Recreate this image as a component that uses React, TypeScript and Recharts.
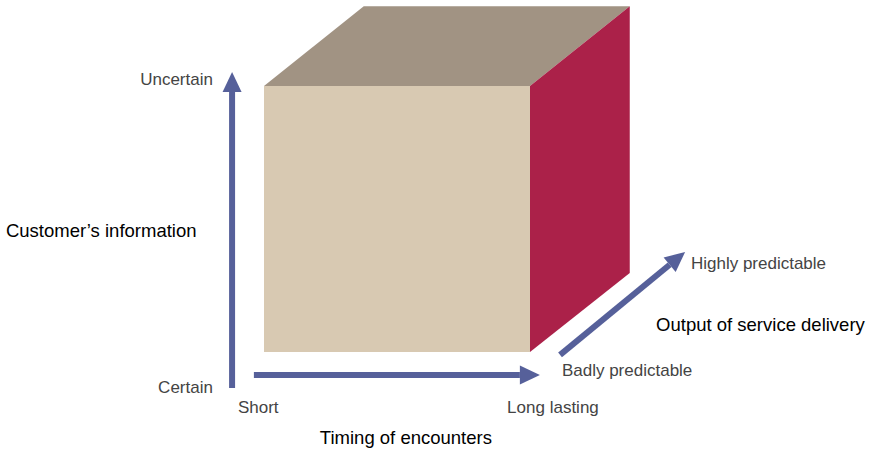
import React from "react";
import { ComposedChart, Area, Line, Scatter, XAxis, YAxis } from "recharts";

// Diagram units: the front face of the cube spans 0..10 on both axes.
// Cube depth is drawn as an oblique offset of (3.75, 3) units.
const frontFace = [
  { x: 0, range: [0, 10] },
  { x: 10, range: [0, 10] },
];
const topFace = [
  { x: 0, range: [10, 10] },
  { x: 3.75, range: [10, 13] },
  { x: 10, range: [10, 13] },
  { x: 13.75, range: [13, 13] },
];
const sideFace = [
  { x: 10, range: [0, 10] },
  { x: 13.75, range: [2.97, 13] },
];

// Arrow shafts (last point = base of the arrow head)
const arrowVertical = [
  { x: -1.2, y: -1.35 },
  { x: -1.2, y: 9.77 },
];
const arrowHorizontal = [
  { x: -0.38, y: -0.86 },
  { x: 9.62, y: -0.86 },
];
const arrowDepth = [
  { x: 11.13, y: -0.11 },
  { x: 15.25, y: 3.28 },
];

// Labels
const axisLabels = [
  { x: -1.92, y: 10.23, text: "Uncertain", anchor: "end" },
  { x: -1.92, y: -1.32, text: "Certain", anchor: "end" },
  { x: -0.98, y: -2.07, text: "Short", anchor: "start" },
  { x: 9.14, y: -2.07, text: "Long lasting", anchor: "start" },
  { x: 11.2, y: -0.71, text: "Badly predictable", anchor: "start" },
  { x: 16.05, y: 3.31, text: "Highly predictable", anchor: "start" },
];
const titleLabels = [
  { x: -9.7, y: 4.55, text: "Customer’s information", anchor: "start" },
  { x: 2.1, y: -3.2, text: "Timing of encounters", anchor: "start" },
  { x: 14.74, y: 1.05, text: "Output of service delivery", anchor: "start" },
];

const W = 877;
const H = 449;
const UNIT = 26.6;
const ORIGIN_X = 264;
const ORIGIN_Y = 352;
const xDomain = [-ORIGIN_X / UNIT, (W - ORIGIN_X) / UNIT];
const yDomain = [-(H - ORIGIN_Y) / UNIT, ORIGIN_Y / UNIT];

const ARROW_COLOR = "#56609a";
const FONT = "'Liberation Sans', Arial, Helvetica, sans-serif";

function makeHead(pts: { x: number; y: number }[]) {
  return (props: any) => {
    const { cx, cy, index, points } = props;
    const last = pts.length - 1;
    if (index !== last || cx == null) return <g key={`d-${index}`} />;
    let dx: number;
    let dy: number;
    if (points && points[index - 1]) {
      dx = cx - points[index - 1].x;
      dy = cy - points[index - 1].y;
    } else {
      dx = pts[last].x - pts[last - 1].x;
      dy = -(pts[last].y - pts[last - 1].y);
    }
    const len = Math.sqrt(dx * dx + dy * dy) || 1;
    const ux = dx / len;
    const uy = dy / len;
    const headLen = 20;
    const halfW = 9.5;
    const tip = [cx + ux * headLen, cy + uy * headLen];
    const b1 = [cx - uy * halfW, cy + ux * halfW];
    const b2 = [cx + uy * halfW, cy - ux * halfW];
    return (
      <polygon
        key={`d-${index}`}
        points={`${tip[0]},${tip[1]} ${b1[0]},${b1[1]} ${b2[0]},${b2[1]}`}
        fill={ARROW_COLOR}
      />
    );
  };
}

function makeLabel(color: string, size: number) {
  return (props: any) => {
    const { cx, cy, payload } = props;
    return (
      <text
        x={cx}
        y={cy}
        textAnchor={payload.anchor}
        dominantBaseline="central"
        fontFamily={FONT}
        fontSize={size}
        fill={color}
      >
        {payload.text}
      </text>
    );
  };
}

export default function App() {
  return (
    <div style={{ position: "absolute", left: 0, top: 0, width: W, height: H, background: "#fff" }}>
      <ComposedChart width={W} height={H} margin={{ top: 0, right: 0, bottom: 0, left: 0 }}>
        <XAxis type="number" dataKey="x" domain={xDomain} allowDataOverflow hide />
        <YAxis type="number" domain={yDomain} allowDataOverflow hide />
        <Area
          data={topFace}
          dataKey="range"
          type="linear"
          stroke="none"
          fill="#a19383"
          fillOpacity={1}
          dot={false}
          activeDot={false}
          isAnimationActive={false}
        />
        <Area
          data={sideFace}
          dataKey="range"
          type="linear"
          stroke="none"
          fill="#ab2149"
          fillOpacity={1}
          dot={false}
          activeDot={false}
          isAnimationActive={false}
        />
        <Area
          data={frontFace}
          dataKey="range"
          type="linear"
          stroke="none"
          fill="#d8c9b2"
          fillOpacity={1}
          dot={false}
          activeDot={false}
          isAnimationActive={false}
        />
        <Line
          data={arrowVertical}
          dataKey="y"
          type="linear"
          stroke={ARROW_COLOR}
          strokeWidth={6}
          dot={makeHead(arrowVertical)}
          activeDot={false}
          isAnimationActive={false}
        />
        <Line
          data={arrowHorizontal}
          dataKey="y"
          type="linear"
          stroke={ARROW_COLOR}
          strokeWidth={6}
          dot={makeHead(arrowHorizontal)}
          activeDot={false}
          isAnimationActive={false}
        />
        <Line
          data={arrowDepth}
          dataKey="y"
          type="linear"
          stroke={ARROW_COLOR}
          strokeWidth={6}
          dot={makeHead(arrowDepth)}
          activeDot={false}
          isAnimationActive={false}
        />
        <Scatter
          data={axisLabels}
          dataKey="y"
          shape={makeLabel("#444444", 17)}
          isAnimationActive={false}
        />
        <Scatter
          data={titleLabels}
          dataKey="y"
          shape={makeLabel("#000000", 18.5)}
          isAnimationActive={false}
        />
      </ComposedChart>
    </div>
  );
}
